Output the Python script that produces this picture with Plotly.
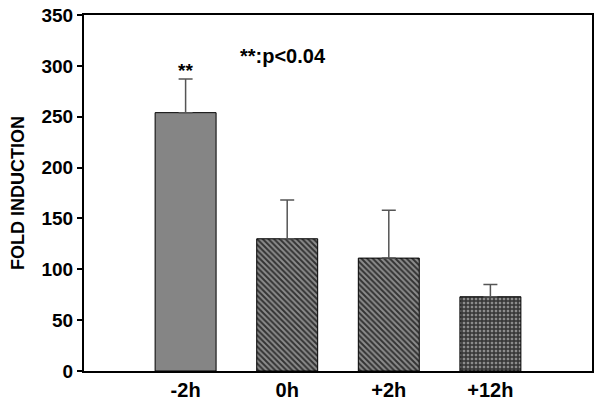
import plotly.graph_objects as go

categories = ["-2h", "0h", "+2h", "+12h"]
values = [254, 130, 111, 73]
errors_up = [33, 38, 47, 12]
patterns = ["", "\\", "\\", "+"]
y_ticks = [0, 50, 100, 150, 200, 250, 300, 350]

FONT = "Arial, Liberation Sans, sans-serif"

fig = go.Figure()
fig.add_trace(go.Bar(
    x=list(range(len(categories))),
    y=values,
    width=0.6,
    marker=dict(
        color="#858585",
        line=dict(color="#000000", width=1),
        pattern=dict(shape=patterns, fgcolor="#333333", bgcolor="#8c8c8c",
                     size=4, solidity=[0.5, 0.5, 0.5, 0.6], fillmode="replace"),
    ),
    error_y=dict(type="data", symmetric=False, array=errors_up,
                 arrayminus=[0] * len(values), color="#555555",
                 thickness=1.5, width=7),
    showlegend=False,
    hoverinfo="skip",
))

fig.add_annotation(x=0, y=values[0] + errors_up[0], yref="y", xref="x",
                   text="<b>**</b>", showarrow=False, yshift=9,
                   font=dict(family=FONT, size=19, color="#000"))
fig.add_annotation(x=0.957, y=310, xref="x", yref="y",
                   text="<b>**:p<0.04</b>", showarrow=False,
                   font=dict(family=FONT, size=20, color="#000"))

fig.update_layout(
    width=601, height=408,
    margin=dict(l=84, r=9, t=15, b=37, autoexpand=False),
    plot_bgcolor="white", paper_bgcolor="white",
    font=dict(family=FONT, color="#000"),
    xaxis=dict(range=[-1, 4], tickmode="array",
               tickvals=list(range(len(categories))),
               ticktext=["<b>%s</b>" % c for c in categories],
               tickfont=dict(size=20), showgrid=False, zeroline=False,
               showline=True, linecolor="black", linewidth=2, mirror=True,
               ticks="", automargin=False),
    yaxis=dict(range=[0, 350], tickmode="array", tickvals=y_ticks,
               ticktext=["<b>%d</b>" % v for v in y_ticks],
               tickfont=dict(size=19), showgrid=False, zeroline=False,
               showline=True, linecolor="black", linewidth=2, mirror=True,
               ticks="outside", ticklen=5, tickwidth=2, tickcolor="black",
               automargin=False,
               title=dict(text="<b>FOLD INDUCTION</b>", font=dict(size=18),
                          standoff=12)),
)

fig.write_html("out.html", config={"displayModeBar": False},
               post_script="document.body.style.margin='0';")
